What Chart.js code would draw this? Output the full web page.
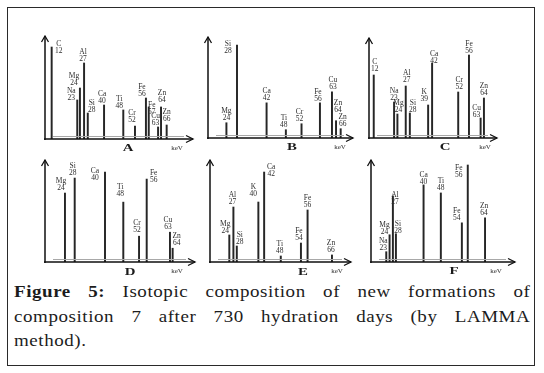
<!DOCTYPE html>
<html>
<head>
<meta charset="utf-8">
<script src="https://cdn.jsdelivr.net/npm/chart.js@4.4.0/dist/chart.umd.min.js"></script>
<style>
body{margin:0;background:#fff;width:544px;height:373px;overflow:hidden;position:relative;font-family:"Liberation Serif",serif;}
#frame{position:absolute;left:7px;top:7px;width:526px;height:357px;border:1px solid #2a2a2a;}
canvas{position:absolute;}
.cap{position:absolute;left:14px;width:449px;font-size:16.5px;letter-spacing:0.5px;color:#1c1c1c;line-height:24px;height:24px;white-space:nowrap;transform:scaleX(1.15);transform-origin:0 0;}
.just{text-align:justify;text-align-last:justify;white-space:normal;}
</style>
</head>
<body>
<div id="frame"></div>
<div class="cap just" style="top:280px"><b>Figure 5:</b> Isotopic composition of new formations of</div>
<div class="cap just" style="top:305px">composition 7 after 730 hydration days (by LAMMA</div>
<div class="cap" style="top:329px">method).</div>
<script>
// peak position is read along the keV axis (0 = y axis, 100 = arrow tip)
// intensity is read along the vertical axis (0 = baseline, 100 = arrow tip)

//panel A
var aSymbols = ["C","Na","Mg","Al","Si","Ca","Ti","Cr","Fe","Fe","Cu","Zn","Zn"];
var aMasses = ["12","23","24","27","28","40","48","52","56","57","63","64","66"];
var aKev = [4.5, 21.8, 23.6, 26.4, 28.9, 39.9, 52.9, 60.8, 68.2, 70.1, 76.4, 78.4, 82.2];
var aIntensity = [89.3, 37.9, 49.5, 73.8, 25.2, 33, 28.2, 12.6, 39.8, 31.1, 11.7, 31.1, 13.6];

//panel B
var bSymbols = ["Mg","Si","Ca","Ti","Cr","Fe","Cu","Zn","Zn"];
var bMasses = ["24","28","42","48","52","56","63","64","66"];
var bKev = [12.7, 20, 40.4, 53.7, 64.5, 77.2, 85.5, 88.3, 91.5];
var bIntensity = [15.1, 92.1, 34.8, 8.2, 14.1, 34.8, 45.7, 17.1, 9.2];

//panel C
var cSymbols = ["C","Na","Mg","Al","Si","K","Ca","Cr","Fe","Cu","Zn"];
var cMasses = ["12","23","24","27","28","39","42","52","56","63","64"];
var cKev = [3.7, 19.6, 22.2, 28.7, 31.9, 46.2, 49.3, 69.7, 78.1, 87.2, 89.8];
var cIntensity = [63, 36, 24, 52, 25, 33, 75, 46, 83, 20, 40];

//panel D
var dSymbols = ["Mg","Si","Ca","Ti","Cr","Fe","Cu","Zn"];
var dMasses = ["24","28","40","48","52","56","63","64"];
var dKev = [13.3, 19.8, 40, 52.2, 62.7, 67.8, 83.3, 85.1];
var dIntensity = [67.6, 82.3, 88.2, 58.7, 25.3, 81.3, 29.2, 13.5];

//panel E
var eSymbols = ["Mg","Al","Si","K","Ca","Ti","Fe","Fe","Zn"];
var eMasses = ["24","27","28","40","42","48","54","56","66"];
var eKev = [13.7, 16.6, 19, 34.3, 38.4, 50.2, 64.5, 69.2, 86.5];
var eIntensity = [26.5, 53.9, 15.7, 58.8, 88.2, 5.9, 18.6, 51, 6.9];

//panel F
var fSymbols = ["Na","Mg","Al","Si","Ca","Ti","Fe","Fe","Zn"];
var fMasses = ["23","24","27","28","40","48","54","56","64"];
var fKev = [10.6, 12.9, 15.2, 17.3, 36.5, 48.5, 63.1, 67.2, 79.2];
var fIntensity = [10.1, 26.7, 64.8, 27.7, 75.6, 67.7, 38.4, 95.1, 43.3];

var axisUnit = "keV";

//where each panel sits and how its peak labels are nudged (px)
var panels = [
    {letter:"A", sym:aSymbols, mass:aMasses, kev:aKev, val:aIntensity,
     left:45, right:193, top:36, base:139, letterDx:83, letterDy:9, kevDx:-16,
     nudge:[[7,4],[-6,-2],[-6,-5],[-1,-4],[4,-3],[-2,-4],[-4,-4],[-3,-6],[-4,-4],[3,5],[-2.5,-4],[1,-7],[0,-6]]},
    {letter:"B", sym:bSymbols, mass:bMasses, kev:bKev, val:bIntensity,
     left:208, right:353, top:37, base:138, letterDx:84, letterDy:9, kevDx:-13,
     nudge:[[0,-5],[-9,6],[0,-5],[-2,-5],[-2,-5],[-2,-4],[1,-5],[2,-11],[2,-5]]},
    {letter:"C", sym:cSymbols, mass:cMasses, kev:cKev, val:cIntensity,
     left:369, right:497, top:38, base:138, letterDx:76, letterDy:9, kevDx:-12,
     nudge:[[1,-6],[0,-4],[1,-4],[1,-6],[3,-3],[-4,-6],[2,-2],[1,-5],[0,-4],[-4,-3],[0,-5]]},
    {letter:"D", sym:dSymbols, mass:dMasses, kev:dKev, val:dIntensity,
     left:45, right:195, top:160, base:262, letterDx:85, letterDy:10, kevDx:-18,
     nudge:[[-4,-5],[-2,-5],[-10,6],[-3,-8],[-2,-6],[7,1],[-2,-5],[4,-5]]},
    {letter:"E", sym:eSymbols, mass:eMasses, kev:eKev, val:eIntensity,
     left:210, right:351, top:160, base:262, letterDx:93, letterDy:10, kevDx:-14,
     nudge:[[-4,-4],[-1,-5],[3,-4],[-5,-8],[7,2],[-1,-5],[-2,-5],[0,-5],[-1,-5]]},
    {letter:"F", sym:fSymbols, mass:fMasses, kev:fKev, val:fIntensity,
     left:371, right:515, top:160, base:262, letterDx:83, letterDy:9, kevDx:-19,
     nudge:[[-3,-4],[-5,-3],[2,6],[2,-3],[0,-3],[0,-5],[-5,-5],[-9,10],[-1,-5]]}
];

var padL = 14, padT = 10, padR = 10, padB = 20;

function makePanelPlugin(p){
    return {
        id: "panel" + p.letter,
        afterDatasetsDraw: function(chart){
            var ctx = chart.ctx;
            var area = chart.chartArea;
            var xs = chart.scales.x;
            var ys = chart.scales.y;
            ctx.save();
            //axes
            ctx.strokeStyle = "#111";
            ctx.lineWidth = 1.5;
            ctx.beginPath();
            ctx.moveTo(area.left, area.bottom + 1);
            ctx.lineTo(area.left, area.top);
            ctx.moveTo(area.left - 1, area.bottom);
            ctx.lineTo(area.right, area.bottom);
            ctx.stroke();
            ctx.lineWidth = 1.3;
            ctx.beginPath();
            ctx.moveTo(area.left - 3.5, area.top + 6);
            ctx.lineTo(area.left, area.top);
            ctx.lineTo(area.left + 3.5, area.top + 6);
            ctx.moveTo(area.right - 7, area.bottom - 3.5);
            ctx.lineTo(area.right, area.bottom);
            ctx.lineTo(area.right - 7, area.bottom + 3.5);
            ctx.stroke();
            ctx.strokeStyle = "#a8a8a8";
            ctx.lineWidth = 1;
            ctx.beginPath();
            ctx.moveTo(area.left + 8, area.bottom - 2.5);
            ctx.lineTo(area.right - 9, area.bottom - 2.5);
            ctx.stroke();
            //peak labels
            ctx.fillStyle = "#2e2e2e";
            ctx.font = "7.5px 'Liberation Serif'";
            ctx.textAlign = "center";
            ctx.textBaseline = "middle";
            for(var i = 0; i < p.kev.length; i++){
                var px = xs.getPixelForValue(p.kev[i]);
                var py = ys.getPixelForValue(p.val[i]);
                var n = p.nudge[i];
                ctx.fillText(p.sym[i], px + n[0], py + n[1] - 7);
                ctx.fillText(p.mass[i], px + n[0], py + n[1]);
            }
            //keV
            ctx.font = "7px 'Liberation Serif'";
            ctx.fillText(axisUnit, area.right + p.kevDx, area.bottom + 9);
            //panel letter
            ctx.translate(area.left + p.letterDx, area.bottom + p.letterDy);
            ctx.scale(1.35, 1);
            ctx.font = "bold 11px 'Liberation Serif'";
            ctx.fillStyle = "#1a1a1a";
            ctx.fillText(p.letter, 0, 0);
            ctx.restore();
        }
    };
}

function newPanel(p){
    var canvas = document.createElement("canvas");
    var w = (p.right - p.left) + padL + padR;
    var h = (p.base - p.top) + padT + padB;
    canvas.width = w;
    canvas.height = h;
    canvas.style.left = (p.left - padL) + "px";
    canvas.style.top = (p.top - padT) + "px";
    canvas.style.width = w + "px";
    canvas.style.height = h + "px";
    document.body.appendChild(canvas);
    var points = [];
    for(var i = 0; i < p.kev.length; i++){
        points.push({x: p.kev[i], y: p.val[i]});
    }
    return new Chart(canvas, {
        type: "bar",
        data: {
            datasets: [{
                data: points,
                backgroundColor: "#262626",
                barThickness: 1.3
            }]
        },
        options: {
            responsive: false,
            animation: false,
            devicePixelRatio: 1,
            layout: {padding: {left: padL, top: padT, right: padR, bottom: padB}},
            plugins: {legend: {display: false}, tooltip: {enabled: false}},
            scales: {
                x: {type: "linear", min: 0, max: 100, offset: false, display: false},
                y: {type: "linear", min: 0, max: 100, display: false}
            }
        },
        plugins: [makePanelPlugin(p)]
    });
}

for(var k = 0; k < panels.length; k++){
    newPanel(panels[k]);
}
</script>
</body>
</html>
